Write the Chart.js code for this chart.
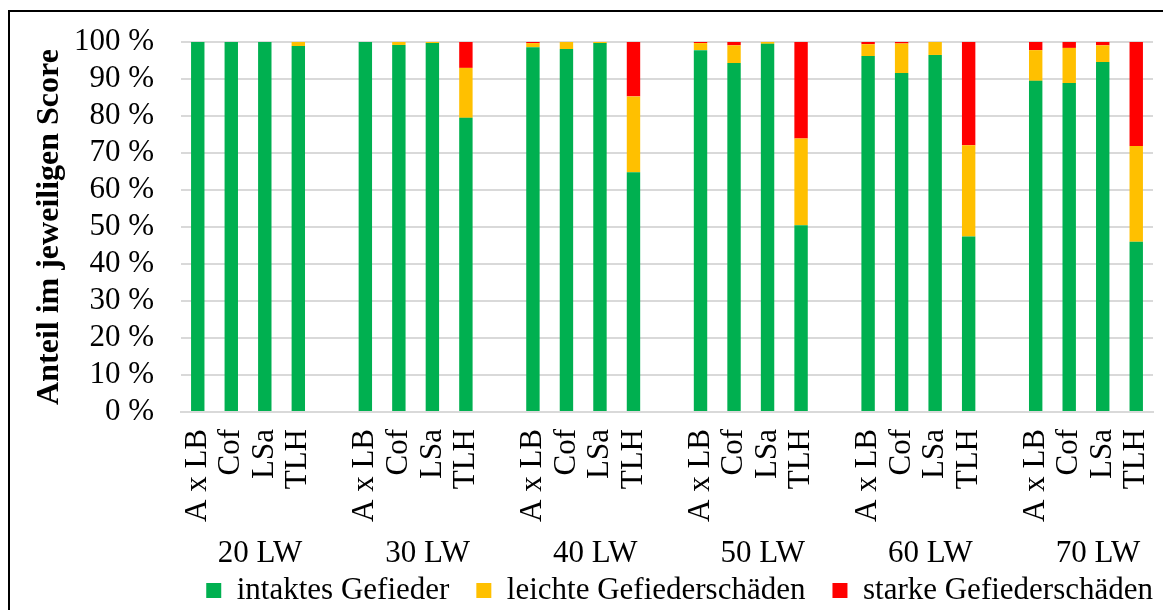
<!DOCTYPE html>
<html>
<head>
<meta charset="utf-8">
<script src="https://cdn.jsdelivr.net/npm/chart.js@4.4.1/dist/chart.umd.min.js"></script>
<style>
  html, body { margin: 0; padding: 0; background: #fff; overflow: hidden; }
  #wrap { position: relative; width: 1163px; height: 610px; }
  #wrap canvas { position: absolute; left: 0; top: 0; }
  #frame { position: absolute; left: 8px; top: 10px; right: -20px; bottom: -20px;
           border-top: 2px solid #000; border-left: 2px solid #000; pointer-events: none; }
</style>
</head>
<body>
<div id="wrap">
  <canvas id="c" width="1163" height="610"></canvas>
  <div id="frame"></div>
</div>
<script>
// Age groups (weeks of life) and the four lines within each group
const ages  = ['20 LW', '30 LW', '40 LW', '50 LW', '60 LW', '70 LW'];
const lines = ['A x LB', 'Cof', 'LSa', 'TLH'];

// Share (%) per score, listed group by group in the order of `lines`
const intakt = [
  100, 100, 100, 98.9,
  100, 99.2, 99.7, 79.5,
  98.6, 98.1, 99.7, 64.8,
  97.8, 94.3, 99.5, 50.5,
  96.2, 91.6, 96.5, 47.4,
  89.5, 88.9, 94.6, 46.0
];
const leicht = [
  0, 0, 0, 1.1,
  0, 0.8, 0.3, 13.5,
  1.1, 1.9, 0.3, 20.5,
  1.9, 4.8, 0.5, 23.4,
  3.2, 8.0, 3.5, 24.7,
  8.3, 9.5, 4.5, 25.9
];
const stark = [
  0, 0, 0, 0,
  0, 0, 0, 7.0,
  0.3, 0, 0, 14.7,
  0.3, 0.9, 0, 26.1,
  0.6, 0.4, 0, 27.9,
  2.2, 1.6, 0.9, 28.1
];

const yTicks = [0, 10, 20, 30, 40, 50, 60, 70, 80, 90, 100];

const SERIF = '"Liberation Serif", "Times New Roman", serif';

// Category slots: four bars per group, one empty slot between groups
const slotLabels = [];
ages.forEach((a, g) => {
  lines.forEach(l => slotLabels.push(l));
  if (g < ages.length - 1) slotLabels.push('');
});
function slotted(values) {
  const out = [];
  ages.forEach((a, g) => {
    for (let i = 0; i < lines.length; i++) out.push(values[g * lines.length + i]);
    if (g < ages.length - 1) out.push(null);
  });
  return out;
}

// Second-level axis labels (age groups) under the rotated line names
const groupLabels = {
  id: 'groupLabels',
  afterDraw(chart) {
    const xs = chart.scales.x, ctx = chart.ctx;
    ctx.save();
    ctx.font = '31px ' + SERIF;
    ctx.fillStyle = '#000';
    ctx.textAlign = 'center';
    ctx.textBaseline = 'alphabetic';
    ages.forEach((age, g) => {
      const first = g * (lines.length + 1);
      const last = first + lines.length - 1;
      const cx = (xs.getPixelForValue(first) + xs.getPixelForValue(last)) / 2 + 12;
      ctx.fillText(age, cx, xs.top + 150);
    });
    ctx.restore();
  }
};

// Let the legend row end flush with the plot's right edge
const legendShift = {
  id: 'legendShift',
  afterLayout(chart) {
    const lg = chart.legend;
    if (!lg) return;
    const p = lg.options.labels.padding;
    lg.left += p;
    lg.right += p;
  }
};

new Chart(document.getElementById('c'), {
  type: 'bar',
  data: {
    labels: slotLabels,
    datasets: [
      { label: 'intaktes Gefieder',      data: slotted(intakt), backgroundColor: '#00B050' },
      { label: 'leichte Gefiederschäden', data: slotted(leicht), backgroundColor: '#FFC000' },
      { label: 'starke Gefiederschäden',  data: slotted(stark),  backgroundColor: '#FF0000' }
    ]
  },
  options: {
    responsive: false,
    animation: false,
    devicePixelRatio: 1,
    layout: { padding: { top: 42, left: 12, right: 10, bottom: -6 } },
    datasets: { bar: { borderWidth: 0, barPercentage: 0.4, categoryPercentage: 1, skipNull: true } },
    scales: {
      x: {
        stacked: true,
        grid: { display: false, drawTicks: false },
        border: { display: true, color: '#d9d9d9', width: 2 },
        ticks: {
          autoSkip: false, maxRotation: 90, minRotation: 90, padding: 17,
          color: '#000', font: { family: SERIF, size: 31 }
        },
        afterFit(scale) {
          scale.height = 136;
          scale.paddingLeft = 0;
          scale.paddingRight = 0;
        }
      },
      y: {
        stacked: true,
        min: 0, max: 100,
        afterBuildTicks(scale) { scale.ticks = yTicks.map(v => ({ value: v })); },
        grid: { color: '#d9d9d9', lineWidth: 2, drawTicks: false },
        border: { display: false },
        ticks: {
          autoSkip: false, padding: 27, color: '#000',
          font: { family: SERIF, size: 31 },
          callback: v => v + ' %'
        },
        title: {
          display: true, text: 'Anteil im jeweiligen Score', color: '#000',
          font: { family: SERIF, size: 32, weight: 'bold' },
          padding: { top: 19, bottom: 0 }
        },
        afterFit(scale) {
          scale.width = 169;
          scale.paddingTop = 0;
          scale.paddingBottom = 0;
        }
      }
    },
    plugins: {
      tooltip: { enabled: false },
      legend: {
        position: 'bottom',
        align: 'end',
        labels: {
          color: '#000', font: { family: SERIF, size: 31 },
          boxWidth: 15, boxHeight: 15, padding: 27
        }
      }
    }
  },
  plugins: [groupLabels, legendShift]
});
</script>
</body>
</html>
